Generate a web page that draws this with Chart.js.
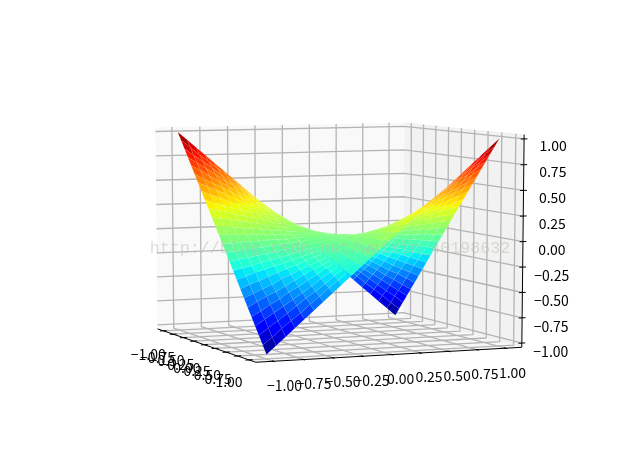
<!DOCTYPE html>
<html><head><meta charset="utf-8">
<style>html,body{margin:0;padding:0;background:#fff;overflow:hidden}#w{width:640px;height:476px}</style>
<script src="https://cdn.jsdelivr.net/npm/chart.js@4/dist/chart.umd.js"></script>
</head><body><div id="w"><canvas id="c" width="640" height="476"></canvas></div>
<script>
const xValues=[-1,-.92,-.84,-.76,-.68,-.6,-.52,-.44,-.36,-.28,-.2,-.12,-.04,.04,.12,.2,.28,.36,.44,.52,.6,.68,.76,.84,.92,1];
const yValues=[-1,-.92,-.84,-.76,-.68,-.6,-.52,-.44,-.36,-.28,-.2,-.12,-.04,.04,.12,.2,.28,.36,.44,.52,.6,.68,.76,.84,.92,1];
const zRows=[
[1,.92,.84,.76,.68,.6,.52,.44,.36,.28,.2,.12,.04,-.04,-.12,-.2,-.28,-.36,-.44,-.52,-.6,-.68,-.76,-.84,-.92,-1],
[.92,.85,.77,.7,.63,.55,.48,.4,.33,.26,.18,.11,.04,-.04,-.11,-.18,-.26,-.33,-.4,-.48,-.55,-.63,-.7,-.77,-.85,-.92],
[.84,.77,.71,.64,.57,.5,.44,.37,.3,.24,.17,.1,.03,-.03,-.1,-.17,-.24,-.3,-.37,-.44,-.5,-.57,-.64,-.71,-.77,-.84],
[.76,.7,.64,.58,.52,.46,.4,.33,.27,.21,.15,.09,.03,-.03,-.09,-.15,-.21,-.27,-.33,-.4,-.46,-.52,-.58,-.64,-.7,-.76],
[.68,.63,.57,.52,.46,.41,.35,.3,.24,.19,.14,.08,.03,-.03,-.08,-.14,-.19,-.24,-.3,-.35,-.41,-.46,-.52,-.57,-.63,-.68],
[.6,.55,.5,.46,.41,.36,.31,.26,.22,.17,.12,.07,.02,-.02,-.07,-.12,-.17,-.22,-.26,-.31,-.36,-.41,-.46,-.5,-.55,-.6],
[.52,.48,.44,.4,.35,.31,.27,.23,.19,.15,.1,.06,.02,-.02,-.06,-.1,-.15,-.19,-.23,-.27,-.31,-.35,-.4,-.44,-.48,-.52],
[.44,.4,.37,.33,.3,.26,.23,.19,.16,.12,.09,.05,.02,-.02,-.05,-.09,-.12,-.16,-.19,-.23,-.26,-.3,-.33,-.37,-.4,-.44],
[.36,.33,.3,.27,.24,.22,.19,.16,.13,.1,.07,.04,.01,-.01,-.04,-.07,-.1,-.13,-.16,-.19,-.22,-.24,-.27,-.3,-.33,-.36],
[.28,.26,.24,.21,.19,.17,.15,.12,.1,.08,.06,.03,.01,-.01,-.03,-.06,-.08,-.1,-.12,-.15,-.17,-.19,-.21,-.24,-.26,-.28],
[.2,.18,.17,.15,.14,.12,.1,.09,.07,.06,.04,.02,.01,-.01,-.02,-.04,-.06,-.07,-.09,-.1,-.12,-.14,-.15,-.17,-.18,-.2],
[.12,.11,.1,.09,.08,.07,.06,.05,.04,.03,.02,.01,0,0,-.01,-.02,-.03,-.04,-.05,-.06,-.07,-.08,-.09,-.1,-.11,-.12],
[.04,.04,.03,.03,.03,.02,.02,.02,.01,.01,.01,0,0,0,0,-.01,-.01,-.01,-.02,-.02,-.02,-.03,-.03,-.03,-.04,-.04],
[-.04,-.04,-.03,-.03,-.03,-.02,-.02,-.02,-.01,-.01,-.01,0,0,0,0,.01,.01,.01,.02,.02,.02,.03,.03,.03,.04,.04],
[-.12,-.11,-.1,-.09,-.08,-.07,-.06,-.05,-.04,-.03,-.02,-.01,0,0,.01,.02,.03,.04,.05,.06,.07,.08,.09,.1,.11,.12],
[-.2,-.18,-.17,-.15,-.14,-.12,-.1,-.09,-.07,-.06,-.04,-.02,-.01,.01,.02,.04,.06,.07,.09,.1,.12,.14,.15,.17,.18,.2],
[-.28,-.26,-.24,-.21,-.19,-.17,-.15,-.12,-.1,-.08,-.06,-.03,-.01,.01,.03,.06,.08,.1,.12,.15,.17,.19,.21,.24,.26,.28],
[-.36,-.33,-.3,-.27,-.24,-.22,-.19,-.16,-.13,-.1,-.07,-.04,-.01,.01,.04,.07,.1,.13,.16,.19,.22,.24,.27,.3,.33,.36],
[-.44,-.4,-.37,-.33,-.3,-.26,-.23,-.19,-.16,-.12,-.09,-.05,-.02,.02,.05,.09,.12,.16,.19,.23,.26,.3,.33,.37,.4,.44],
[-.52,-.48,-.44,-.4,-.35,-.31,-.27,-.23,-.19,-.15,-.1,-.06,-.02,.02,.06,.1,.15,.19,.23,.27,.31,.35,.4,.44,.48,.52],
[-.6,-.55,-.5,-.46,-.41,-.36,-.31,-.26,-.22,-.17,-.12,-.07,-.02,.02,.07,.12,.17,.22,.26,.31,.36,.41,.46,.5,.55,.6],
[-.68,-.63,-.57,-.52,-.46,-.41,-.35,-.3,-.24,-.19,-.14,-.08,-.03,.03,.08,.14,.19,.24,.3,.35,.41,.46,.52,.57,.63,.68],
[-.76,-.7,-.64,-.58,-.52,-.46,-.4,-.33,-.27,-.21,-.15,-.09,-.03,.03,.09,.15,.21,.27,.33,.4,.46,.52,.58,.64,.7,.76],
[-.84,-.77,-.71,-.64,-.57,-.5,-.44,-.37,-.3,-.24,-.17,-.1,-.03,.03,.1,.17,.24,.3,.37,.44,.5,.57,.64,.71,.77,.84],
[-.92,-.85,-.77,-.7,-.63,-.55,-.48,-.4,-.33,-.26,-.18,-.11,-.04,.04,.11,.18,.26,.33,.4,.48,.55,.63,.7,.77,.85,.92],
[-1,-.92,-.84,-.76,-.68,-.6,-.52,-.44,-.36,-.28,-.2,-.12,-.04,.04,.12,.2,.28,.36,.44,.52,.6,.68,.76,.84,.92,1]];
const tickValues=[-1,-.75,-.5,-.25,0,.25,.5,.75,1];
const tickLabels=['\u22121.00','\u22120.75','\u22120.50','\u22120.25','0.00','0.25','0.50','0.75','1.00'];
const watermark='http://blog.csdn.net/weixin_40198632';

const elev=6.7*Math.PI/180, azim=-23*Math.PI/180, dist=10;
const lim={x:[-1.1,1.1],y:[-1.1,1.1],z:[-1,1]};
const R=.5;
const E=[R+Math.cos(elev)*Math.cos(azim)*dist,R+Math.sin(azim)*Math.cos(elev)*dist,R+Math.sin(elev)*dist];
const sub=(a,b)=>[a[0]-b[0],a[1]-b[1],a[2]-b[2]];
const dot=(a,b)=>a[0]*b[0]+a[1]*b[1]+a[2]*b[2];
const cross=(a,b)=>[a[1]*b[2]-a[2]*b[1],a[2]*b[0]-a[0]*b[2],a[0]*b[1]-a[1]*b[0]];
const unit=a=>{const l=Math.hypot(...a);return a.map(v=>v/l)};
const N=unit(sub(E,[R,R,R])),U=unit(cross([0,0,1],N)),V=cross(N,U);
function norm(x,y,z){return [(x-lim.x[0])/(lim.x[1]-lim.x[0]),(y-lim.y[0])/(lim.y[1]-lim.y[0]),(z-lim.z[0])/(lim.z[1]-lim.z[0])]}
function proj(x,y,z){const d=sub(norm(x,y,z),E);const w=-dot(N,d);return {x:dot(U,d)/w,y:dot(V,d)/w}}
function depth(x,y,z){return -dot(N,sub(norm(x,y,z),E))}

const jetR=[[0,0],[.35,0],[.66,1],[.89,1],[1,.5]],jetG=[[0,0],[.125,0],[.375,1],[.64,1],[.91,0],[1,0]],jetB=[[0,.5],[.11,1],[.34,1],[.65,0],[1,0]];
function seg(t,s){for(let i=1;i<s.length;i++){if(t<=s[i][0]){const f=(t-s[i-1][0])/(s[i][0]-s[i-1][0]);return s[i-1][1]+f*(s[i][1]-s[i-1][1])}}return s[s.length-1][1]}
function jet(t){const q=Math.min(255,Math.floor(t*256))/255;return `rgb(${Math.round(seg(q,jetR)*255)},${Math.round(seg(q,jetG)*255)},${Math.round(seg(q,jetB)*255)})`}

const layers=[];
function poly(pts,color,edge,ew){const d=pts.concat([pts[0]]).map(p=>proj(...p));layers.push({data:d,showLine:true,fill:'shape',backgroundColor:color,borderWidth:ew||0,borderColor:edge||color,pointRadius:0,tension:0})}
function line(pts,color,w){layers.push({data:pts.map(p=>proj(...p)),showLine:true,fill:false,borderColor:color,borderWidth:w,pointRadius:0,tension:0})}
const pad=a=>{const r=(lim[a][1]-lim[a][0])/48;return [lim[a][0]-r,lim[a][1]+r]};
const [x0,x1]=pad('x'),[y0,y1]=pad('y'),[z0,z1]=pad('z');
poly([[x0,y0,z0],[x0,y1,z0],[x0,y1,z1],[x0,y0,z1]],'#f9f9f9');
poly([[x0,y1,z0],[x1,y1,z0],[x1,y1,z1],[x0,y1,z1]],'#f2f2f2');
poly([[x0,y0,z0],[x1,y0,z0],[x1,y1,z0],[x0,y1,z0]],'#f6f6f6');
const gc='#b4b4b4',gw=1.3;
for(const t of tickValues){
 line([[t,y0,z0],[t,y1,z0],[t,y1,z1]],gc,gw);
 line([[x1,t,z0],[x0,t,z0],[x0,t,z1]],gc,gw);
 line([[x0,y0,t],[x0,y1,t],[x1,y1,t]],gc,gw);
}
line([[x0,y0,z0],[x1,y0,z0]],'#000',1);
line([[x1,y0,z0],[x1,y1,z0]],'#000',1);
line([[x1,y1,z0],[x1,y1,z1]],'#000',1);
const td=.05;
for(const t of tickValues){
 line([[t,y0-td*.6,z0],[t,y0+td*.6,z0]],'#000',1);
 line([[x1+td*.6,t,z0],[x1-td*.6,t,z0]],'#000',1);
 line([[x1,y1+td*.6,t],[x1,y1-td*.6,t]],'#000',1);
}
const cells=[];
for(let i=0;i<xValues.length-1;i++)for(let j=0;j<yValues.length-1;j++){
 const c=[[xValues[i],yValues[j],zRows[i][j]],[xValues[i+1],yValues[j],zRows[i+1][j]],[xValues[i+1],yValues[j+1],zRows[i+1][j+1]],[xValues[i],yValues[j+1],zRows[i][j+1]]];
 const zm=(c[0][2]+c[1][2]+c[2][2]+c[3][2])/4;
 const dm=c.reduce((s,p)=>s+depth(...p),0)/4;
 cells.push({c,t:(zm+1)/2,dm});
}
cells.sort((a,b)=>b.dm-a.dm);
for(const q of cells)poly(q.c,jet(q.t),'rgba(255,255,255,.1)',.6);
layers.reverse();

const labelOffsets={x:[[-15,24],[-20,22]],y:[[11,24],[7,24]],z:[[29,9],[29,7]]};
const textPlugin={id:'axisText',afterDraw(ch){
 const ctx=ch.ctx,sx=ch.scales.x,sy=ch.scales.y;
 ctx.save();ctx.textAlign='center';ctx.textBaseline='middle';ctx.fillStyle='#000';ctx.font="14px 'Noto Sans CJK SC'";
 const put=(w,t,o,s)=>{const p=proj(...w);const f=(t+1)/2;ctx.fillText(s,sx.getPixelForValue(p.x)+o[0][0]+f*(o[1][0]-o[0][0]),sy.getPixelForValue(p.y)+o[0][1]+f*(o[1][1]-o[0][1]))};
 tickValues.forEach((t,i)=>{
  put([t,y0,z0],t,labelOffsets.x,tickLabels[i]);
  put([x1,t,z0],t,labelOffsets.y,tickLabels[i]);
  put([x1,y1,t],t,labelOffsets.z,tickLabels[i]);
 });
 ctx.font="16.7px 'Liberation Mono'";ctx.fillStyle='rgba(190,190,175,.5)';
 ctx.fillText(watermark,330,249);
 ctx.restore();
}};
new Chart(document.getElementById('c'),{type:'scatter',data:{datasets:layers},plugins:[textPlugin],options:{
 responsive:false,animation:false,events:[],
 layout:{padding:{left:80,right:64,top:55,bottom:51}},
 plugins:{legend:{display:false},tooltip:{enabled:false},title:{display:false}},
 scales:{x:{type:'linear',display:false,min:-.095,max:.09},y:{type:'linear',display:false,min:-.095,max:.09}},
 elements:{line:{borderJoinStyle:'round'}},clip:false
}});
</script></body></html>
